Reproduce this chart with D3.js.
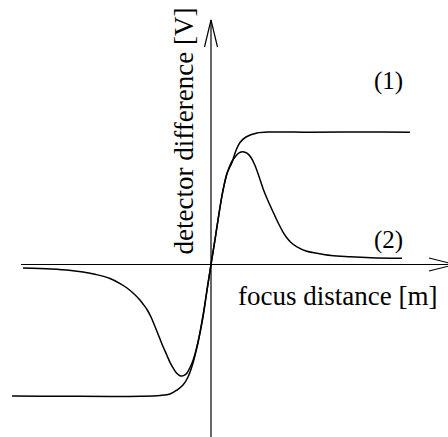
<!DOCTYPE html>
<html>
<head>
<meta charset="utf-8">
<script src="https://cdn.jsdelivr.net/npm/d3@7"></script>
<style>
  html, body { margin: 0; padding: 0; background: #fff; }
  svg { display: block; }
</style>
</head>
<body>
<svg id="chart" width="448" height="437"></svg>
<script>
// Focus distance (arbitrary units) and detector signal (normalised volts)
const curve1X = [-9.95, -7.5, -5, -3.5, -2.55, -2.05, -1.7, -1.4, -1.15, -0.9, -0.65, -0.4, -0.2, 0,
                 0.2, 0.4, 0.6, 0.8, 1.05, 1.25, 1.45, 1.75, 2.3, 3, 5, 7.5, 9.95];
const curve1Y = [-0.996, -0.998, -1.0, -0.998, -0.992, -0.981, -0.951, -0.913, -0.852, -0.746, -0.591, -0.398, -0.197, 0,
                 0.189, 0.386, 0.561, 0.689, 0.773, 0.864, 0.924, 0.966, 0.996, 1.004, 1.002, 1.004, 1.002];

const curve2X = [-9.4, -8, -7, -6.4, -5.75, -5.05, -4.5, -4.2, -3.9, -3.6, -3.4, -3.2, -3.0, -2.8, -2.6, -2.4,
                 -2.2, -2.05, -1.85, -1.7, -1.55, -1.45, -1.3, -1.2, -1.05, -0.9, -0.75, -0.6, -0.4, -0.2, 0,
                 0.2, 0.4, 0.6, 0.8, 1.0, 1.2, 1.4, 1.6, 1.8, 2.0, 2.2, 2.4, 2.6, 2.8, 3.0, 3.2, 3.4, 3.6,
                 3.8, 4.0, 4.3, 4.75, 5.285, 6.0, 6.95, 8.0, 9.55];
const curve2Y = [-0.027, -0.034, -0.045, -0.057, -0.076, -0.106, -0.148, -0.178, -0.216, -0.261, -0.299, -0.341, -0.398, -0.47, -0.545, -0.621,
                 -0.689, -0.742, -0.795, -0.826, -0.843, -0.845, -0.837, -0.822, -0.78, -0.727, -0.652, -0.553, -0.386, -0.193, 0,
                 0.189, 0.386, 0.561, 0.689, 0.769, 0.814, 0.845, 0.855, 0.843, 0.811, 0.75, 0.667, 0.576, 0.5, 0.432, 0.367, 0.303, 0.246,
                 0.201, 0.167, 0.133, 0.102, 0.085, 0.068, 0.059, 0.052, 0.047];

const curveLabels = ["(1)", "(2)"];
const xTitle = "focus distance [m]";
const yTitle = "detector difference [V]";

const serif = "'Liberation Serif', 'Times New Roman', Times, serif";

const svg = d3.select("#chart");

const x = d3.scaleLinear().domain([-10, 10]).range([11, 411]);
const y = d3.scaleLinear().domain([-1, 1]).range([396.5, 132.5]);

const axisG = svg.append("g").attr("stroke", "#000").attr("stroke-width", 1.2).attr("fill", "none");

// horizontal axis with open arrow head
const x0 = x(-9.5), x1 = x(12.2), y0 = y(0);
axisG.append("line").attr("x1", x0).attr("y1", y0).attr("x2", x1).attr("y2", y0);
axisG.append("path").attr("d", `M${x1 - 26},${y0 - 6.5}L${x1},${y0}L${x1 - 26},${y0 + 6.5}`);

// vertical axis with open arrow head
const yTop = 20, yBottom = 437;
axisG.append("line").attr("x1", x(0)).attr("y1", yBottom).attr("x2", x(0)).attr("y2", yTop);
axisG.append("path").attr("d", `M${x(0) - 6.5},${yTop + 27}L${x(0)},${yTop}L${x(0) + 6.5},${yTop + 27}`);

const line = d3.line()
  .x(d => x(d[0]))
  .y(d => y(d[1]))
  .curve(d3.curveCatmullRom.alpha(0.5));

const series = [d3.zip(curve1X, curve1Y), d3.zip(curve2X, curve2Y)];

svg.append("g")
  .selectAll("path")
  .data(series)
  .join("path")
  .attr("d", line)
  .attr("fill", "none")
  .attr("stroke", "#000")
  .attr("stroke-width", 1.5);

const textG = svg.append("g").attr("font-family", serif).attr("fill", "#000");

// curve labels
textG.append("text").attr("x", 374).attr("y", 89).attr("font-size", 25).text(curveLabels[0]);
textG.append("text").attr("x", 374).attr("y", 248).attr("font-size", 25).text(curveLabels[1]);

// axis titles
textG.append("text")
  .attr("x", 238).attr("y", 305)
  .attr("font-size", 27)
  .text(xTitle);

textG.append("text")
  .attr("transform", `translate(193,131) rotate(-90)`)
  .attr("text-anchor", "middle")
  .attr("font-size", 27)
  .text(yTitle);
</script>
</body>
</html>
